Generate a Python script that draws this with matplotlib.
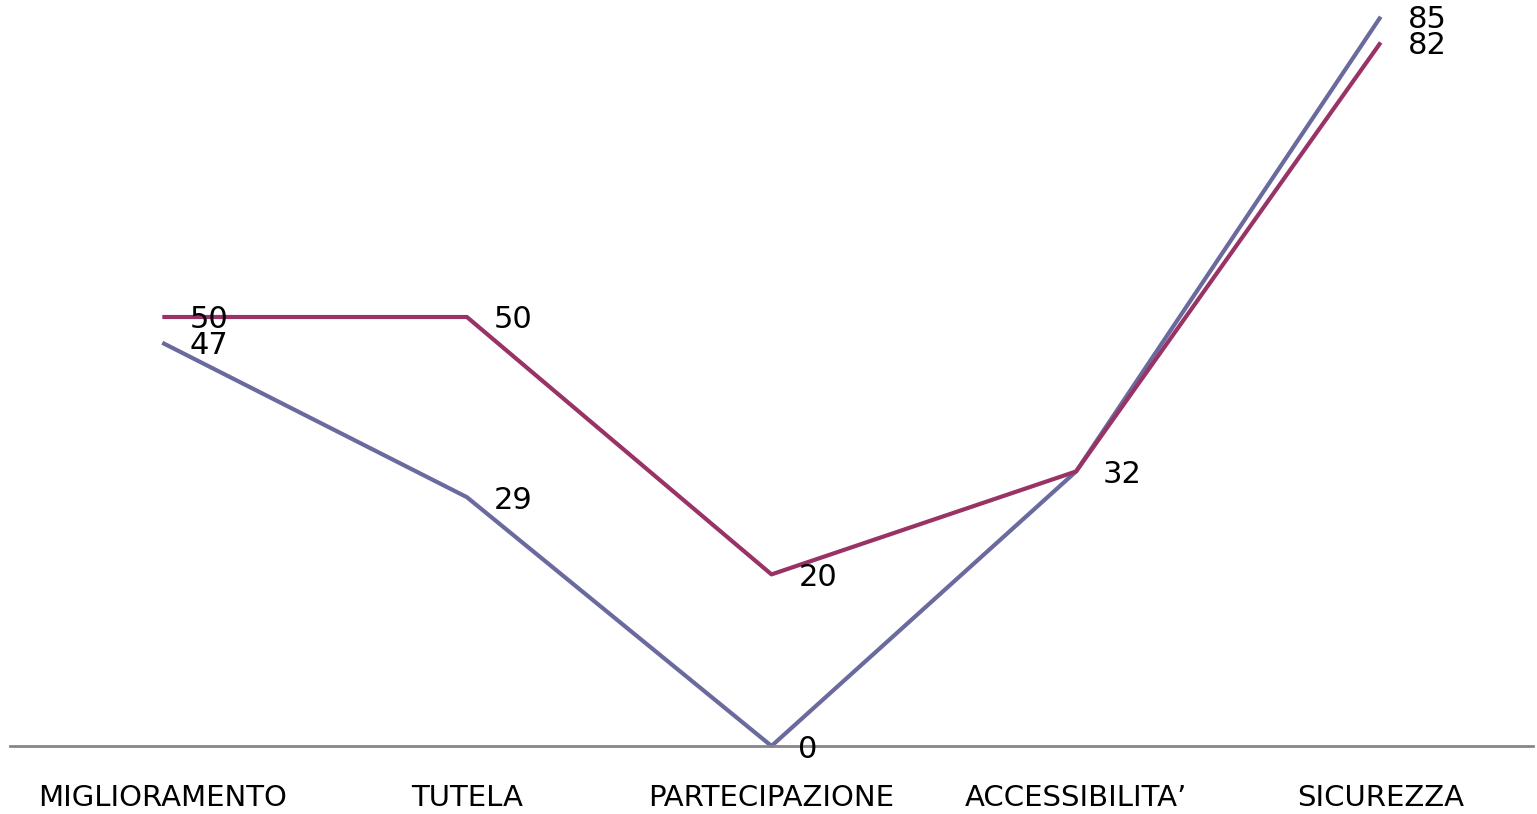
import matplotlib
matplotlib.use("Agg")
import matplotlib.pyplot as plt
from matplotlib.transforms import offset_copy

categories = ["MIGLIORAMENTO", "TUTELA", "PARTECIPAZIONE", "ACCESSIBILITA\u2019", "SICUREZZA"]
series_blue = [47, 29, 0, 32, 85]
series_red = [50, 50, 20, 32, 82]

blue = "#6a6a9e"
red = "#993366"

fig = plt.figure(figsize=(15.37, 8.14), dpi=100)
ax = fig.add_axes([10 / 1537, (814 - 746) / 814, 1523 / 1537, 746 / 814])

x = list(range(len(categories)))
ax.plot(x, series_blue, color=blue, lw=3, clip_on=False, solid_capstyle="butt")
ax.plot(x, series_red, color=red, lw=3, clip_on=False, solid_capstyle="butt")

ax.set_xlim(-0.5, len(categories) - 0.5)
ax.set_ylim(0, 746 / 8.58)

lbl_tr = offset_copy(ax.transData, fig=fig, x=27, y=-3, units="dots")
for xi, v in zip(x, series_blue):
    ax.text(xi, v, str(v), transform=lbl_tr, ha="left", va="center",
            fontsize=22, family="DejaVu Sans", color="black", clip_on=False)
for xi, v, vb in zip(x, series_red, series_blue):
    if v == vb:
        continue
    ax.text(xi, v, str(v), transform=lbl_tr, ha="left", va="center",
            fontsize=22, family="DejaVu Sans", color="black", clip_on=False)

for s in ["top", "right", "left"]:
    ax.spines[s].set_visible(False)
ax.spines["bottom"].set_color("#868686")
ax.spines["bottom"].set_linewidth(2)
ax.set_yticks([])
ax.set_xticks(x)
ax.set_xticklabels(categories, fontsize=21, family="DejaVu Sans")
ax.tick_params(axis="x", length=0, pad=27)

fig.savefig("out.png", dpi=100)
